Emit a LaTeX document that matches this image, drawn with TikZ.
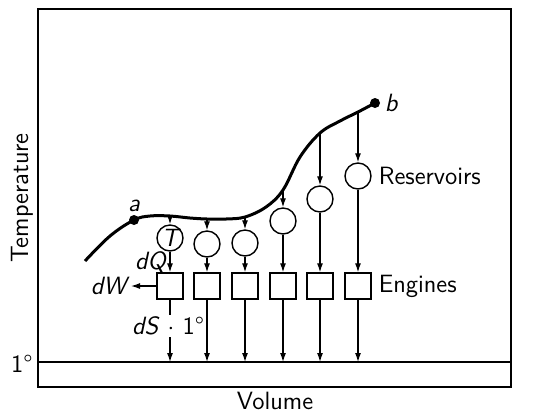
\documentclass[tikz,border=0pt]{standalone}
\usepackage{tikz}
\usetikzlibrary{arrows.meta, positioning, calc}
\renewcommand{\familydefault}{\sfdefault}

\begin{document}
\begin{tikzpicture}[x=0.5pt, y=-0.5pt, font=\fontsize{12.5}{15}\selectfont,
    flow/.style={-{Latex[length=4.5pt,width=3pt]}, line width=0.6pt},
    reservoir/.style={circle, draw, line width=0.7pt, minimum size=13pt, inner sep=0pt},
    engine/.style={rectangle, draw, line width=0.7pt, minimum size=13pt, inner sep=0pt},
    state/.style={circle, fill, inner sep=0pt, minimum size=5pt}]

    \useasboundingbox (0,0) rectangle (535,419);

    % Frame and the 1 degree reservoir
    \draw[line width=1pt] (38,9) rectangle (511,387);
    \draw[line width=1pt] (38,362) -- (511,362);
    \node[left, inner sep=2pt] (deg) at (37,364) {1\textdegree};
    \node[rotate=90] (ylabel) at (22,198) {Temperature};
    \node (xlabel) at (275,401) {Volume};

    % Points on the path from a to b
    \coordinate (pa) at (134,220);
    \coordinate (t1) at (170,216);
    \coordinate (t2) at (207,219);
    \coordinate (t3) at (245,217);
    \coordinate (t4) at (283,190);
    \coordinate (t5) at (320,133);
    \coordinate (t6) at (358,112);
    \coordinate (pb) at (375,103);
    \draw[line width=1.5pt] plot[smooth, tension=0.6] coordinates {(85,261) (110,236) (pa) (150,216) (t1) (190,218) (t2)
        (226,219) (t3) (266,207) (t4) (300,157) (t5) (340,121) (t6) (pb)};
    \node[state, label={[inner sep=1pt]above:\itshape a}] (a) at (pa) {};
    \node[state, label={[inner sep=2pt]right:\itshape b}] (b) at (pb) {};

    % Reservoirs and engines
    \foreach \i/\x/\cy in {1/170/238, 2/207/244, 3/245/243, 4/283/221, 5/320/199, 6/358/176} {
        \node[reservoir] (res\i) at (\x,\cy) {};
        \node[engine] (eng\i) at (\x,286) {};
        \coordinate (sink\i) at (\x,362);
        \draw[flow] (t\i) -- (res\i);
        \draw[flow] (res\i) -- (eng\i);
        \draw[flow] (eng\i) -- (sink\i);
    }
    \node at (res1) {\itshape T};
    \node[right] (reslabel) at (res6.east) {Reservoirs};
    \node[right] (englabel) at (eng6.east) {Engines};

    % Heat, work and entropy of the first engine
    \node[left, inner sep=2pt] (dq) at ($(res1)!0.5!(eng1)$) {\itshape dQ};
    \coordinate (work) at (131,286);
    \draw[flow] (eng1) -- (work) node[left, inner sep=2pt] (dw) {\itshape dW};
    \node[fill=white, inner sep=1pt] (ds) at (168,326) {\textit{dS} $\cdot$ 1\textdegree};
\end{tikzpicture}
\end{document}
